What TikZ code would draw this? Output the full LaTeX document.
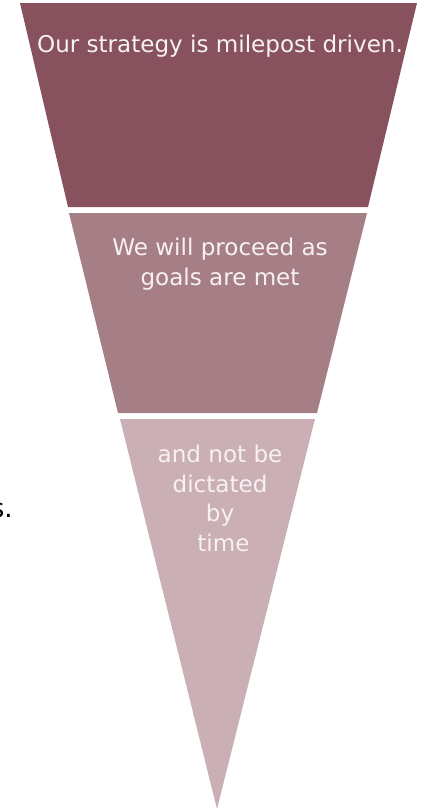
\documentclass[tikz,border=0pt]{standalone}
\usepackage{fontspec}
\setmainfont{DejaVu Sans}
\usetikzlibrary{positioning}
\definecolor{bandTop}{RGB}{135,81,94}
\definecolor{bandMid}{RGB}{166,126,134}
\definecolor{bandLow}{RGB}{202,175,181}
\definecolor{bandText}{RGB}{247,241,243}
\begin{document}
\begin{tikzpicture}[x=0.025cm,y=-0.025cm,
  band text/.style={text=bandText, align=center, inner sep=0pt,
    font=\fontsize{16.4}{21}\selectfont}]
\useasboundingbox (0,0) rectangle (422,810);
% the three bands of the funnel
\fill[bandTop] (20,3) -- (417,3) -- (368,207) -- (68,207) -- cycle;
\fill[bandMid] (69,213) -- (367,213) -- (317,413) -- (118,413) -- cycle;
\fill[bandLow] (120,419) -- (315,419) -- (217,809) -- cycle;
% texts
\node[band text, anchor=base] (strategy) at (220,52) {Our strategy is milepost driven.};
\node[band text, anchor=north] (goals) at (220,238) {We will proceed as\\goals are met};
\node[band text, anchor=north] (time) at (220,445) {and not be\\dictated\\by\\\hspace*{.3em}time};
\node[font=\fontsize{18.5}{21}\selectfont, anchor=base east, inner sep=0pt] (cut) at (13,517) {s.};
\end{tikzpicture}
\end{document}
